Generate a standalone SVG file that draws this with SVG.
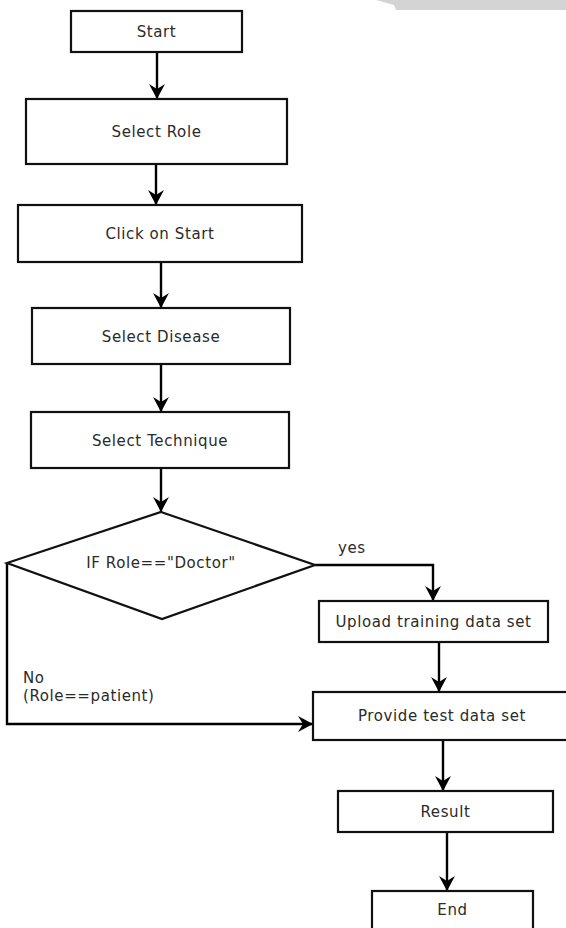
<svg xmlns="http://www.w3.org/2000/svg" width="566" height="928" viewBox="0 0 566 928">
<style>
.box{fill:#fff;stroke:#111;stroke-width:2.2}
.t{font-family:"DejaVu Sans","Liberation Sans",sans-serif;font-size:15px;letter-spacing:0.6px;fill:#2a2a2a;text-anchor:middle}
.l{font-family:"DejaVu Sans","Liberation Sans",sans-serif;font-size:15px;letter-spacing:0.6px;fill:#2a2a2a}
.c{fill:none;stroke:#000;stroke-width:2.4;marker-end:url(#ah)}
.c2{fill:none;stroke:#000;stroke-width:2.2}
</style>
<defs>
<marker id="ah" markerUnits="userSpaceOnUse" viewBox="0 0 15 16" refX="15" refY="8" markerWidth="15" markerHeight="16" orient="auto">
<path d="M0,0 L15,8 L0,16 L5,8 z" fill="#000"/>
</marker>
</defs>
<rect width="566" height="928" fill="#fff"/>
<polygon points="376,0 566,0 566,10 396,10 394,5" fill="#d4d4d4"/>
<g id="connectors">
<line class="c" x1="157" y1="52" x2="157" y2="99"/>
<line class="c" x1="156" y1="164" x2="156" y2="205"/>
<line class="c" x1="161" y1="262" x2="161" y2="308"/>
<line class="c" x1="161" y1="364" x2="161" y2="412"/>
<line class="c" x1="161" y1="468" x2="161" y2="512"/>
<path class="c" d="M315,565 L433,565 L433,601"/>
<path class="c" d="M7,563 L7,724 L313,724"/>
<line class="c" x1="439" y1="642" x2="439" y2="692"/>
<line class="c" x1="443" y1="740" x2="443" y2="791"/>
<line class="c" x1="447" y1="832" x2="447" y2="891"/>
<text class="l" x="338" y="553">yes</text>
<text class="l" x="23" y="683">No</text>
<text class="l" x="23" y="701">(Role==patient)</text>
</g>
<g id="start">
<rect class="box" x="71" y="11" width="171" height="41"/>
<text class="t" x="156.5" y="37">Start</text>
</g>
<g id="select-role">
<rect class="box" x="26" y="99" width="261" height="65"/>
<text class="t" x="156.5" y="137">Select Role</text>
</g>
<g id="click-start">
<rect class="box" x="18" y="205" width="284" height="57"/>
<text class="t" x="160" y="239">Click on Start</text>
</g>
<g id="select-disease">
<rect class="box" x="32" y="308" width="258" height="56"/>
<text class="t" x="161" y="341.5">Select Disease</text>
</g>
<g id="select-technique">
<rect class="box" x="31" y="412" width="258" height="56"/>
<text class="t" x="160" y="445.5">Select Technique</text>
</g>
<g id="decision">
<polygon class="box" points="161,512 315,565 162,619 7,563"/>
<text class="t" x="161" y="568">IF Role=="Doctor"</text>
</g>
<g id="upload">
<rect class="box" x="319" y="601" width="229" height="41"/>
<text class="t" x="433.5" y="627">Upload training data set</text>
</g>
<g id="provide">
<rect class="box" x="313" y="692" width="260" height="48"/>
<text class="t" x="442" y="721">Provide test data set</text>
</g>
<g id="result">
<rect class="box" x="338" y="791" width="215" height="41"/>
<text class="t" x="445.5" y="817">Result</text>
</g>
<g id="end">
<rect class="box" x="372" y="891" width="161" height="45"/>
<text class="t" x="452.5" y="915">End</text>
</g>
</svg>
